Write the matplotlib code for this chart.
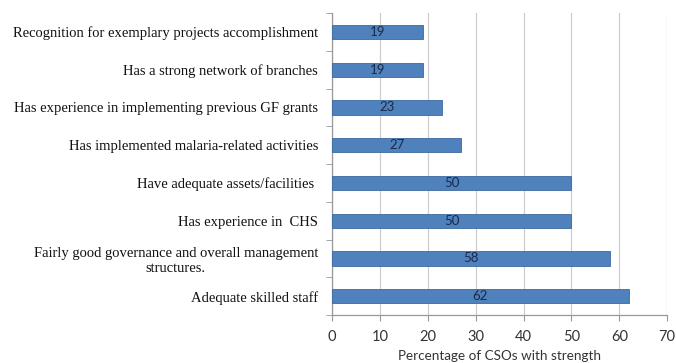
import matplotlib.pyplot as plt
from matplotlib.ticker import FixedLocator

# Strengths reported by CSOs, listed bottom to top
categories = [
    "Adequate skilled staff",
    "Fairly good governance and overall management\nstructures.",
    "Has experience in  CHS",
    "Have adequate assets/facilities ",
    "Has implemented malaria-related activities",
    "Has experience in implementing previous GF grants",
    "Has a strong network of branches",
    "Recognition for exemplary projects accomplishment",
]
values = [62, 58, 50, 50, 27, 23, 19, 19]
xticks = [0, 10, 20, 30, 40, 50, 60, 70]

fig = plt.figure(figsize=(6.76, 3.63), dpi=100)
ax = fig.add_axes([0.491, 0.132, 0.496, 0.832])

y = list(range(len(categories)))
bars = ax.barh(y, values, height=0.38, color="#4F81BD", edgecolor="#3C6A9E",
               linewidth=0.6, zorder=3)

for bar, v in zip(bars, values):
    ax.text(bar.get_x() + bar.get_width() / 2, bar.get_y() + bar.get_height() / 2,
            str(v), ha="center", va="center", fontsize=9.5, color="#1B2A4A",
            family="Lato", zorder=4)

ax.set_xlim(0, 70)
ax.set_ylim(-0.5, len(categories) - 0.5)
ax.set_xticks(xticks)
ax.set_xticklabels([str(t) for t in xticks], family="Lato", fontsize=10.5, color="#333333")
ax.set_yticks(y)
ax.set_yticklabels(categories, family="Liberation Serif", fontsize=10.5,
                   color="#111111", ha="right")
for lbl in ax.get_yticklabels():
    lbl.set_multialignment("center")
ax.tick_params(axis="y", length=0, pad=10)
ax.yaxis.set_minor_locator(FixedLocator([i - 0.5 for i in range(len(categories) + 1)]))
ax.tick_params(axis="y", which="minor", length=4, color="#999999", direction="out")
ax.tick_params(axis="x", length=4, color="#999999", direction="out", pad=7)

ax.grid(axis="x", color="#CFCFCF", linewidth=0.9, zorder=0)
for side in ("top", "right"):
    ax.spines[side].set_visible(False)
for side in ("left", "bottom"):
    ax.spines[side].set_color("#999999")
    ax.spines[side].set_linewidth(0.9)

ax.set_xlabel("Percentage of CSOs with strength", family="Lato", fontsize=9.7,
              color="#333333", labelpad=4)

fig.savefig("out.png", dpi=100)
